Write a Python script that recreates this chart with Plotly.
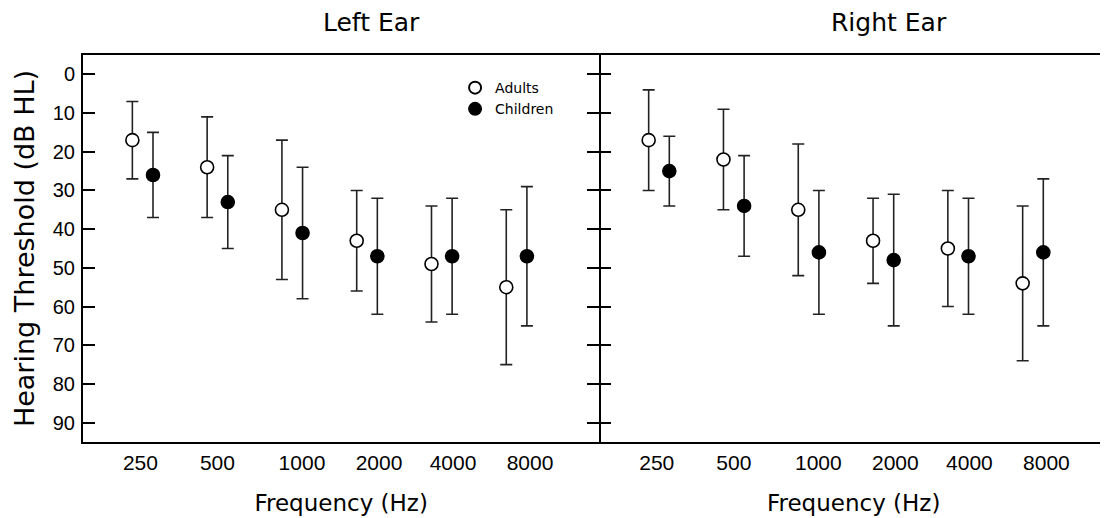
import plotly.graph_objects as go

freqs = ["250", "500", "1000", "2000", "4000", "8000"]

# mean thresholds (dB HL) and SD
left_adults = [17, 24, 35, 43, 49, 55]
left_adults_sd = [10, 13, 18, 13, 15, 20]
left_children = [26, 33, 41, 47, 47, 47]
left_children_sd = [11, 12, 17, 15, 15, 18]

right_adults = [17, 22, 35, 43, 45, 54]
right_adults_sd = [13, 13, 17, 11, 15, 20]
right_children = [25, 34, 46, 48, 47, 46]
right_children_sd = [9, 13, 16, 17, 15, 19]

y_ticks = [0, 10, 20, 30, 40, 50, 60, 70, 80, 90]

# layout helpers
dodge = 0.138
label_pos = [-0.03, 1.0, 2.13, 3.16, 4.15, 5.18]
x_adults = [i - dodge for i in range(len(freqs))]
x_children = [i + dodge for i in range(len(freqs))]

TEXT_FONT = "DejaVu Sans"
NUM_FONT = "Liberation Sans"


def group_trace(x, y, sd, name, filled, xaxis, yaxis, show):
    return go.Scatter(
        x=x,
        y=y,
        mode="markers",
        name=name,
        showlegend=show,
        xaxis=xaxis,
        yaxis=yaxis,
        marker=dict(
            symbol="circle",
            size=13,
            color="black" if filled else "white",
            line=dict(color="black", width=1.6),
        ),
        error_y=dict(
            type="data",
            array=sd,
            symmetric=True,
            color="#222222",
            thickness=1.6,
            width=6,
        ),
    )


fig = go.Figure()
fig.add_trace(group_trace(x_adults, left_adults, left_adults_sd, "Adults", False, "x", "y", True))
fig.add_trace(group_trace(x_children, left_children, left_children_sd, "Children", True, "x", "y", True))
fig.add_trace(group_trace(x_adults, right_adults, right_adults_sd, "Adults", False, "x2", "y2", False))
fig.add_trace(group_trace(x_children, right_children, right_children_sd, "Children", True, "x2", "y2", False))

split = (599.3 - 83) / 1025

x_common = dict(
    showline=True,
    linewidth=2,
    linecolor="black",
    mirror=True,
    ticks="",
    showgrid=False,
    zeroline=False,
    tickvals=label_pos,
    ticktext=freqs,
    tickfont=dict(family=NUM_FONT, size=21, color="black"),
    ticklabelstandoff=1,
    title=dict(
        text="Frequency (Hz)",
        font=dict(family=TEXT_FONT, size=23, color="black"),
        standoff=22,
    ),
)
y_common = dict(
    range=[95, -5],
    tickvals=y_ticks,
    ticks="inside",
    ticklen=12,
    tickwidth=2,
    tickcolor="black",
    linewidth=2,
    linecolor="black",
    showgrid=False,
    zeroline=False,
)

# the page body adds an 8 px offset, so the figure is drawn 8 px smaller
fig.update_layout(
    width=1100,
    height=510,
    margin=dict(l=75, r=0, t=47, b=76),
    paper_bgcolor="white",
    plot_bgcolor="white",
    xaxis=dict(domain=[0, split], range=[-0.798, 6.106], anchor="y", **x_common),
    xaxis2=dict(domain=[split, 1], range=[-0.798, 6.003], anchor="y2", **x_common),
    yaxis=dict(
        anchor="x",
        showline=True,
        mirror="ticks",
        tickfont=dict(family=NUM_FONT, size=20, color="black"),
        ticklabelstandoff=2,
        title=dict(
            text="Hearing Threshold (dB HL)",
            font=dict(family=TEXT_FONT, size=27, color="black"),
            standoff=10,
        ),
        **y_common,
    ),
    yaxis2=dict(anchor="x2", showline=False, showticklabels=False, **y_common),
    yaxis3=dict(
        overlaying="y2",
        anchor="x2",
        side="right",
        range=[95, -5],
        tickvals=y_ticks,
        ticks="inside",
        ticklen=5,
        tickwidth=2,
        tickcolor="black",
        showline=False,
        showgrid=False,
        zeroline=False,
        showticklabels=False,
    ),
    legend=dict(
        x=0.363,
        y=0.956,
        xanchor="left",
        yanchor="top",
        bgcolor="rgba(0,0,0,0)",
        font=dict(family=TEXT_FONT, size=14, color="black"),
        tracegroupgap=0,
        itemsizing="constant",
    ),
    annotations=[
        dict(
            text="Left Ear",
            x=(371 - 83) / 1025,
            y=1.085,
            xref="paper",
            yref="paper",
            xanchor="center",
            yanchor="middle",
            showarrow=False,
            font=dict(family=TEXT_FONT, size=25, color="black"),
        ),
        dict(
            text="Right Ear",
            x=(889 - 83) / 1025,
            y=1.085,
            xref="paper",
            yref="paper",
            xanchor="center",
            yanchor="middle",
            showarrow=False,
            font=dict(family=TEXT_FONT, size=25, color="black"),
        ),
    ],
)

fig.write_html("out.html")
